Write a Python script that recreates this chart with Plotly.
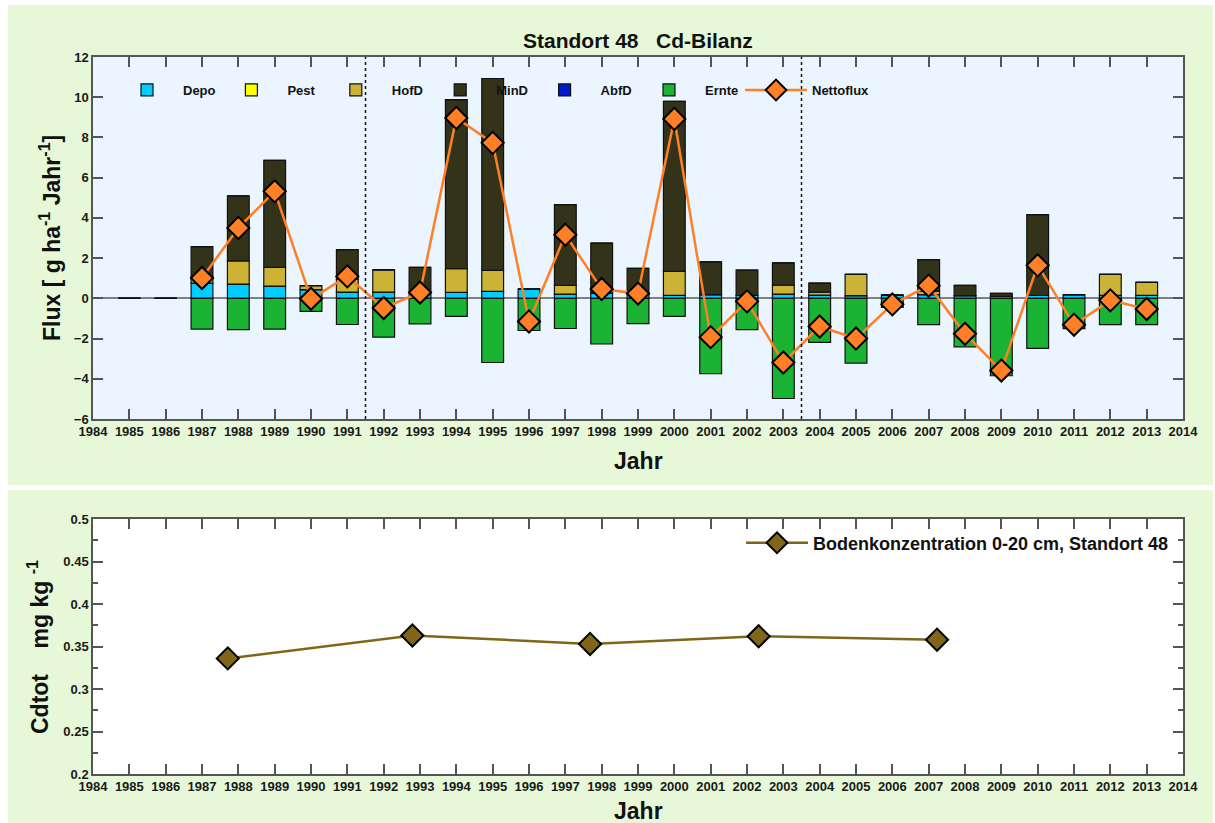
import plotly.graph_objects as go

# ---------------- data ----------------
years = list(range(1985, 2014))
depo = [0, 0, 0.76, 0.71, 0.61, 0.43, 0.31, 0.31, 0.30, 0.30, 0.35, 0.46, 0.21, 0.25, 0.21,
        0.15, 0.18, 0.15, 0.21, 0.16, 0.13, 0.16, 0.18, 0.13, 0.10, 0.15, 0.18, 0.15, 0.15]
pest = [0] * 29
hofd = [0, 0, 0.30, 1.15, 0.93, 0.20, 0.65, 1.11, 0, 1.17, 1.04, 0, 0.43, 0, 0,
        1.19, 0, 0, 0.45, 0.15, 1.06, 0, 0.17, 0, 0, 0, 0, 1.04, 0.64]
mind = [0, 0, 1.51, 3.23, 5.32, 0, 1.46, 0, 1.24, 8.41, 9.54, 0, 4.02, 2.50, 1.28,
        8.46, 1.63, 1.26, 1.10, 0.45, 0, 0, 1.57, 0.51, 0.15, 4.01, 0, 0, 0]
abfd = [0] * 29
ernte = [0, 0, -1.53, -1.56, -1.53, -0.65, -1.30, -1.93, -1.27, -0.90, -3.19, -1.60, -1.50, -2.27, -1.26,
         -0.90, -3.75, -1.56, -4.98, -2.19, -3.22, -0.45, -1.31, -2.41, -3.85, -2.49, -1.51, -1.31, -1.31]
netto = [None, None, 1.01, 3.50, 5.32, -0.02, 1.09, -0.48, 0.29, 8.97, 7.73, -1.15, 3.16, 0.46, 0.24,
         8.92, -1.93, -0.15, -3.19, -1.40, -2.00, -0.30, 0.63, -1.76, -3.59, 1.64, -1.31, -0.10, -0.53]

soil_years = [1987.71, 1992.79, 1997.68, 2002.32, 2007.23]
soil_cd = [0.336, 0.363, 0.353, 0.362, 0.358]
soil_err = [0.002, 0.004, 0.002, 0.003, 0.007]

tick_years = list(range(1984, 2015))
separators = [1991.5, 2003.5]

# ---------------- figure ----------------
W, H = 1215, 823
ML, MR, MT, MB = 93, 32, 57, 49
PW = W - ML - MR
PH = H - MT - MB


def px(x):
    return (x - ML) / PW


def py(y):
    return (H - MB - y) / PH


FONT = "Liberation Sans, Arial, sans-serif"
C_DEPO = "#00ccff"
C_PEST = "#ffff00"
C_HOFD = "#ccb336"
C_MIND = "#33331a"
C_ABFD = "#0019cc"
C_ERNTE = "#1ab334"
C_NETTO = "#ff7f27"
C_SOIL = "#806619"

fig = go.Figure()
for name, vals, col in [("Depo", depo, C_DEPO), ("Pest", pest, C_PEST), ("HofD", hofd, C_HOFD),
                        ("MinD", mind, C_MIND), ("AbfD", abfd, C_ABFD), ("Ernte", ernte, C_ERNTE)]:
    fig.add_trace(go.Bar(x=years, y=vals, name=name, width=0.6,
                         marker=dict(color=col, line=dict(color="#111111", width=1.2)),
                         xaxis="x", yaxis="y", legend="legend"))

fig.add_trace(go.Scatter(x=years, y=netto, name="Nettoflux", mode="lines+markers",
                         line=dict(color=C_NETTO, width=2.5),
                         marker=dict(symbol="diamond", size=17, color=C_NETTO,
                                     line=dict(color="black", width=2)),
                         xaxis="x", yaxis="y", legend="legend3"))

fig.add_trace(go.Scatter(x=soil_years, y=soil_cd, name="Bodenkonzentration 0-20 cm, Standort 48",
                         mode="lines+markers",
                         line=dict(color=C_SOIL, width=2.5),
                         marker=dict(symbol="diamond", size=17, color=C_SOIL,
                                     line=dict(color="black", width=2)),
                         error_y=dict(type="data", array=soil_err, color=C_SOIL, thickness=1.5, width=5),
                         xaxis="x2", yaxis="y2", legend="legend2"))

axis_common = dict(showline=True, linecolor="#555555", linewidth=1.5, mirror="ticks",
                   ticks="inside", tickcolor="#555555", tickwidth=1.5, ticklen=10,
                   showgrid=False, tickfont=dict(size=13, color="#1a1a1a"))

shapes = [
    # green panels
    dict(type="rect", xref="paper", yref="paper", x0=px(8), x1=px(1213), y0=py(485), y1=py(5),
         fillcolor="#e6f8d8", line=dict(width=0), layer="below"),
    dict(type="rect", xref="paper", yref="paper", x0=px(8), x1=px(1213), y0=py(823), y1=py(490),
         fillcolor="#e6f8d8", line=dict(width=0), layer="below"),
    # plot backgrounds
    dict(type="rect", xref="x domain", yref="y domain", x0=0, x1=1, y0=0, y1=1,
         fillcolor="#ebf5ff", line=dict(width=0), layer="below"),
    dict(type="rect", xref="x2 domain", yref="y2 domain", x0=0, x1=1, y0=0, y1=1,
         fillcolor="white", line=dict(width=0), layer="below"),
]
for s in separators:
    shapes.append(dict(type="line", xref="x", yref="y domain", x0=s, x1=s, y0=0, y1=1,
                       line=dict(color="#111111", width=1.5, dash="dot")))

fig.update_layout(
    width=W, height=H,
    margin=dict(l=ML, r=MR, t=MT, b=MB, pad=0),
    paper_bgcolor="white", plot_bgcolor="white",
    font=dict(family=FONT, size=13, color="#111111", weight="bold"),
    barmode="relative", bargap=0.4,
    showlegend=True,
    xaxis=dict(domain=[0, 1], anchor="y", range=[1984, 2014], tickmode="array",
               tickvals=tick_years, ticktext=[str(y) for y in tick_years], **axis_common),
    yaxis=dict(domain=[py(419), 1], anchor="x", range=[-6, 12], tickmode="array",
               tickvals=list(range(-6, 13, 2)), zeroline=True, zerolinecolor="#808080",
               zerolinewidth=1.5, **axis_common),
    xaxis2=dict(domain=[0, 1], anchor="y2", range=[1984, 2014], tickmode="array",
                tickvals=tick_years, ticktext=[str(y) for y in tick_years], **axis_common),
    yaxis2=dict(domain=[0, py(519)], anchor="x2", range=[0.2, 0.5], tickmode="array",
                tickvals=[0.2, 0.25, 0.3, 0.35, 0.4, 0.45, 0.5],
                ticktext=["0.2", "0.25", "0.3", "0.35", "0.4", "0.45", "0.5"],
                minor=dict(dtick=0.025, ticks="inside", ticklen=5, tickcolor="#555555", tickwidth=1.5),
                zeroline=False, **axis_common),
    legend=dict(orientation="h", x=px(111), xanchor="left", y=py(90), yanchor="middle",
                bgcolor="rgba(0,0,0,0)", borderwidth=0, font=dict(size=13),
                itemwidth=62, entrywidth=27.4, entrywidthmode="pixels", traceorder="normal"),
    legend3=dict(orientation="h", x=px(740), xanchor="left", y=py(90), yanchor="middle",
                 bgcolor="rgba(0,0,0,0)", borderwidth=0, font=dict(size=13), itemwidth=62),
    legend2=dict(orientation="h", x=px(1174), xanchor="right", y=py(543), yanchor="middle",
                 bgcolor="rgba(0,0,0,0)", borderwidth=0, font=dict(size=18), itemwidth=62),
    shapes=shapes,
    annotations=[
        dict(text="Standort 48   Cd-Bilanz", xref="paper", yref="paper", x=0.5, y=py(41),
             xanchor="center", yanchor="middle", showarrow=False, font=dict(size=21)),
        dict(text="Jahr", xref="paper", yref="paper", x=0.5, y=py(461),
             xanchor="center", yanchor="middle", showarrow=False, font=dict(size=23)),
        dict(text="Jahr", xref="paper", yref="paper", x=0.5, y=py(811),
             xanchor="center", yanchor="middle", showarrow=False, font=dict(size=23)),
        dict(text="Flux [ g ha<sup>-1</sup> Jahr<sup>-1</sup>]", xref="paper", yref="paper",
             x=px(50), y=py(238), xanchor="center", yanchor="middle", textangle=-90,
             showarrow=False, font=dict(size=23)),
        dict(text="Cdtot    mg kg <sup>-1</sup>", xref="paper", yref="paper",
             x=px(38), y=py(647), xanchor="center", yanchor="middle", textangle=-90,
             showarrow=False, font=dict(size=23)),
    ],
)

fig.write_html("out.html", config={"displayModeBar": False},
               post_script="document.body.style.margin='0';document.body.style.overflow='hidden';")
